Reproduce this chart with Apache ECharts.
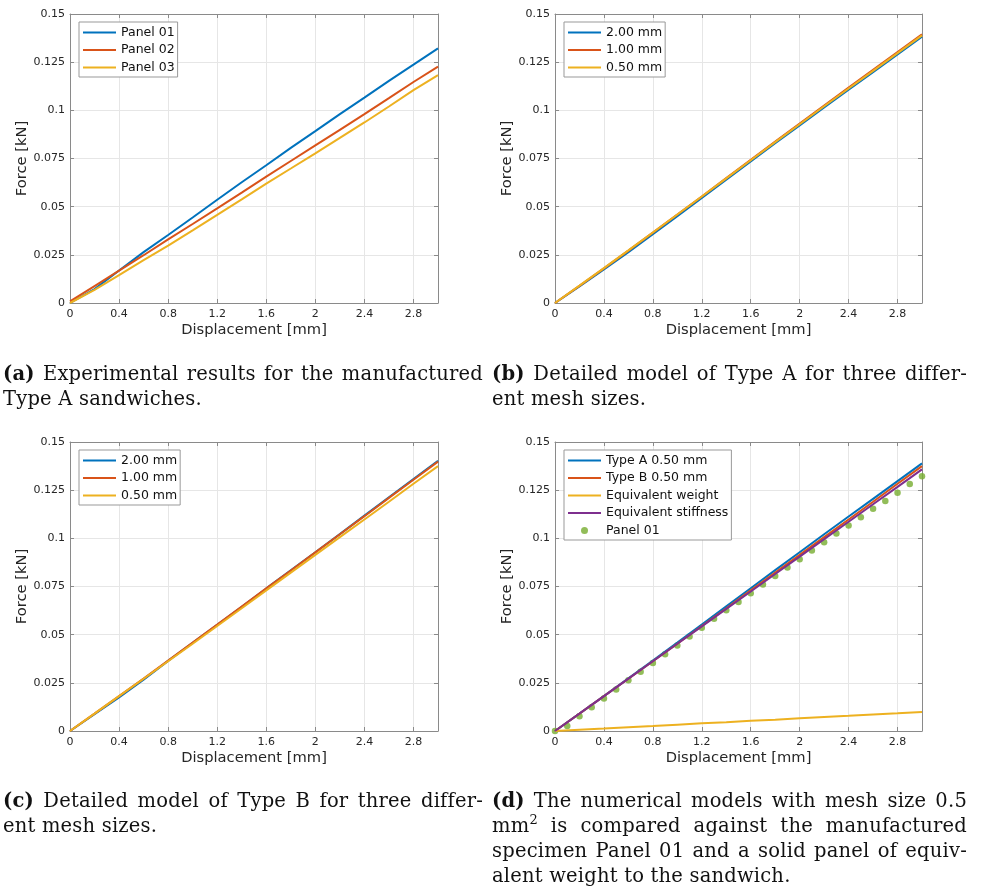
<!DOCTYPE html>
<html>
<head>
<meta charset="utf-8">
<script src="https://cdn.jsdelivr.net/npm/echarts@6/dist/echarts.min.js"></script>
<style>
    body { margin: 0; background: #fff; }
    #chart { position: absolute; left: 0; top: 0; width: 981px; height: 891px; }
    .cap { position: absolute; font-family: 'DejaVu Serif', serif; font-size: 19.5px; line-height: 25px; color: #111; letter-spacing: 0.2px; }
    .cap div { text-align: justify; text-align-last: justify; white-space: nowrap; }
    .cap div.last { text-align: left; text-align-last: left; }
    .cap b { font-weight: bold; }
    .cap sup { font-size: 13px; line-height: 0; vertical-align: 0; position: relative; top: -8px; }
</style>
</head>
<body>
<div id="chart"></div>

<div class="cap" style="left:3px; top:361px; width:480px;">
    <div><b>(a)</b> Experimental results for the manufactured</div>
    <div class="last">Type A sandwiches.</div>
</div>
<div class="cap" style="left:492px; top:361px; width:475px;">
    <div><b>(b)</b> Detailed model of Type A for three differ-</div>
    <div class="last">ent mesh sizes.</div>
</div>
<div class="cap" style="left:3px; top:788px; width:480px;">
    <div><b>(c)</b> Detailed model of Type B for three differ-</div>
    <div class="last">ent mesh sizes.</div>
</div>
<div class="cap" style="left:492px; top:788px; width:475px;">
    <div><b>(d)</b> The numerical models with mesh size 0.5</div>
    <div>mm<sup>2</sup> is compared against the manufactured</div>
    <div>specimen Panel 01 and a solid panel of equiv-</div>
    <div class="last">alent weight to the sandwich.</div>
</div>

<script>
// displacement [mm] for the simulated / smoothed curves
var xLine = [0, 0.2, 0.4, 0.6, 0.8, 1.0, 1.2, 1.4, 1.6, 1.8, 2.0, 2.2, 2.4, 2.6, 2.8, 3.0];
// displacement [mm] for Panel 01 markers
var xDots = [0, 0.1, 0.2, 0.3, 0.4, 0.5, 0.6, 0.7, 0.8, 0.9, 1.0, 1.1, 1.2, 1.3, 1.4, 1.5,
             1.6, 1.7, 1.8, 1.9, 2.0, 2.1, 2.2, 2.3, 2.4, 2.5, 2.6, 2.7, 2.8, 2.9, 3.0];

// (a) experiments, force [kN]
var panel01 = [0, 0.0072, 0.0169, 0.0264, 0.0353, 0.0444, 0.0536, 0.0627, 0.0715, 0.0805, 0.0892, 0.0980, 0.1066, 0.1153, 0.1237, 0.1322];
var panel02 = [0.0008, 0.0088, 0.0168, 0.0248, 0.0330, 0.0410, 0.0491, 0.0573, 0.0656, 0.0737, 0.0818, 0.0899, 0.0980, 0.1063, 0.1147, 0.1227];
var panel03 = [0, 0.0068, 0.0145, 0.0222, 0.0298, 0.0377, 0.0457, 0.0538, 0.0620, 0.0698, 0.0777, 0.0857, 0.0937, 0.1020, 0.1105, 0.1183];

// (b) Type A, mesh sizes
var typeA200 = [0, 0.0086, 0.0174, 0.0264, 0.0357, 0.0451, 0.0545, 0.0640, 0.0735, 0.0829, 0.0922, 0.1015, 0.1107, 0.1198, 0.1290, 0.1382];
var typeA100 = [0, 0.0089, 0.0180, 0.0272, 0.0365, 0.0459, 0.0553, 0.0648, 0.0743, 0.0838, 0.0932, 0.1025, 0.1118, 0.1210, 0.1302, 0.1394];
var typeA050 = [0, 0.0090, 0.0181, 0.0273, 0.0366, 0.0459, 0.0553, 0.0647, 0.0741, 0.0835, 0.0928, 0.1021, 0.1113, 0.1205, 0.1297, 0.1389];

// (c) Type B, mesh sizes
var typeB200 = [0, 0.0087, 0.0174, 0.0266, 0.0364, 0.0458, 0.0551, 0.0645, 0.0740, 0.0834, 0.0928, 0.1022, 0.1118, 0.1213, 0.1308, 0.1403];
var typeB100 = [0, 0.0090, 0.0181, 0.0272, 0.0366, 0.0459, 0.0552, 0.0646, 0.0740, 0.0833, 0.0927, 0.1021, 0.1115, 0.1210, 0.1304, 0.1398];
var typeB050 = [0, 0.0090, 0.0181, 0.0271, 0.0362, 0.0453, 0.0545, 0.0637, 0.0730, 0.0822, 0.0914, 0.1006, 0.1098, 0.1190, 0.1283, 0.1375];

// (d) comparison
var eqWeight    = [0, 0.0007, 0.0013, 0.0020, 0.0026, 0.0033, 0.0040, 0.0046, 0.0053, 0.0059, 0.0066, 0.0073, 0.0079, 0.0086, 0.0092, 0.0099];
var eqStiffness = [0, 0.0091, 0.0181, 0.0272, 0.0362, 0.0453, 0.0543, 0.0634, 0.0724, 0.0815, 0.0905, 0.0996, 0.1086, 0.1177, 0.1267, 0.1358];
var panel01Dots = [0, 0.0026, 0.0076, 0.0123, 0.0169, 0.0216, 0.0264, 0.0308, 0.0353, 0.0399, 0.0444, 0.0491, 0.0536, 0.0582,
                   0.0627, 0.0670, 0.0715, 0.0760, 0.0805, 0.0848, 0.0892, 0.0937, 0.0980, 0.1025, 0.1066, 0.1109, 0.1153,
                   0.1194, 0.1237, 0.1282, 0.1322];

var xTicks = { min: 0, max: 3, interval: 0.4 };
var yTicks = { min: 0, max: 0.15, interval: 0.025 };

var C_BLUE = '#0072BD', C_RED = '#D95319', C_YEL = '#EDB120', C_PUR = '#7E2F8E', C_GRN = '#77AC30';
var AXIS_COL = '#8a8a8a', TXT_COL = '#262626', FONT = 'DejaVu Sans';
// thin bar used as the legend sample for line series
var LINE_ICON = 'path://M0,0 L100,0 L100,6 L0,6 Z';

var grids = [
    { left: 70,  top: 14,  width: 368, height: 289 },
    { left: 555, top: 14,  width: 367, height: 289 },
    { left: 70,  top: 442, width: 368, height: 289 },
    { left: 555, top: 442, width: 367, height: 289 }
];

function pairs(xs, ys)
{
    return xs.map(function(x, i) { return [x, ys[i]]; });
}

var xAxes = [], yAxes = [];
grids.forEach(function(g, k)
{
    g.outerBoundsMode = 'none';
    var line = { show: true, onZero: false, lineStyle: { color: AXIS_COL, width: 1 } };
    var tick = { show: true, inside: true, length: 4, lineStyle: { color: AXIS_COL } };
    var lbl  = { color: TXT_COL, fontSize: 11, fontFamily: FONT };
    xAxes.push({
        gridIndex: k, type: 'value', position: 'bottom',
        min: xTicks.min, max: xTicks.max, interval: xTicks.interval,
        axisLine: line, axisTick: tick,
        axisLabel: Object.assign({ margin: 6, showMaxLabel: false }, lbl),
        splitLine: { show: true, lineStyle: { color: '#e6e6e6', width: 1 } },
        name: 'Displacement [mm]', nameLocation: 'middle', nameGap: 20,
        nameTextStyle: { color: TXT_COL, fontSize: 14.7, fontFamily: FONT }
    });
    xAxes.push({
        gridIndex: k, type: 'value', position: 'top',
        min: xTicks.min, max: xTicks.max, interval: xTicks.interval,
        axisLine: line, axisTick: tick, axisLabel: { show: false }, splitLine: { show: false }
    });
    yAxes.push({
        gridIndex: k, type: 'value', position: 'left',
        min: yTicks.min, max: yTicks.max, interval: yTicks.interval,
        axisLine: line, axisTick: tick,
        axisLabel: Object.assign({ margin: 5 }, lbl),
        splitLine: { show: true, lineStyle: { color: '#e6e6e6', width: 1 } },
        name: 'Force [kN]', nameLocation: 'middle', nameGap: 40,
        nameTextStyle: { color: TXT_COL, fontSize: 14.7, fontFamily: FONT }
    });
    yAxes.push({
        gridIndex: k, type: 'value', position: 'right',
        min: yTicks.min, max: yTicks.max, interval: yTicks.interval,
        axisLine: line, axisTick: tick, axisLabel: { show: false }, splitLine: { show: false }
    });
});

function lineSeries(k, name, ys, color)
{
    return {
        type: 'line', name: name, xAxisIndex: 2 * k, yAxisIndex: 2 * k,
        data: pairs(xLine, ys), symbol: 'none', showSymbol: false,
        lineStyle: { color: color, width: 2 }, itemStyle: { color: color },
        animation: false
    };
}

var series = [
    lineSeries(0, 'a|Panel 01', panel01, C_BLUE),
    lineSeries(0, 'a|Panel 02', panel02, C_RED),
    lineSeries(0, 'a|Panel 03', panel03, C_YEL),
    lineSeries(1, 'b|2.00 mm', typeA200, C_BLUE),
    lineSeries(1, 'b|1.00 mm', typeA100, C_RED),
    lineSeries(1, 'b|0.50 mm', typeA050, C_YEL),
    lineSeries(2, 'c|2.00 mm', typeB200, C_BLUE),
    lineSeries(2, 'c|1.00 mm', typeB100, C_RED),
    lineSeries(2, 'c|0.50 mm', typeB050, C_YEL),
    lineSeries(3, 'd|Type A 0.50 mm', typeA050, C_BLUE),
    lineSeries(3, 'd|Type B 0.50 mm', typeB050, C_RED),
    lineSeries(3, 'd|Equivalent weight', eqWeight, C_YEL),
    lineSeries(3, 'd|Equivalent stiffness', eqStiffness, C_PUR),
    {
        type: 'scatter', name: 'd|Panel 01', xAxisIndex: 6, yAxisIndex: 6,
        data: pairs(xDots, panel01Dots), symbol: 'circle', symbolSize: 6.5,
        itemStyle: { color: C_GRN }, animation: false
    }
];

function legendAt(left, top, names)
{
    return {
        left: left, top: top, orient: 'vertical',
        data: names.map(function(n) {
            return { name: n, icon: n === 'd|Panel 01' ? 'circle' : LINE_ICON };
        }),
        formatter: function(n) { return n.split('|')[1]; },
        itemWidth: 33, itemHeight: 7, itemGap: 4.5,
        padding: [4, 3, 3, 4],
        borderColor: '#999', borderWidth: 1, borderRadius: 0, backgroundColor: '#fff',
        selectedMode: false,
        itemStyle: { borderWidth: 0 },
        textStyle: { color: '#111', fontSize: 12.5, fontFamily: FONT }
    };
}

var option = {
    animation: false,
    backgroundColor: '#fff',
    grid: grids,
    xAxis: xAxes,
    yAxis: yAxes,
    legend: [
        legendAt(79, 22, ['a|Panel 01', 'a|Panel 02', 'a|Panel 03']),
        legendAt(564, 22, ['b|2.00 mm', 'b|1.00 mm', 'b|0.50 mm']),
        legendAt(79, 450, ['c|2.00 mm', 'c|1.00 mm', 'c|0.50 mm']),
        legendAt(564, 450, ['d|Type A 0.50 mm', 'd|Type B 0.50 mm', 'd|Equivalent weight', 'd|Equivalent stiffness', 'd|Panel 01'])
    ],
    series: series
};

var myChart = echarts.init(document.getElementById('chart'));
myChart.setOption(option);
</script>
</body>
</html>
